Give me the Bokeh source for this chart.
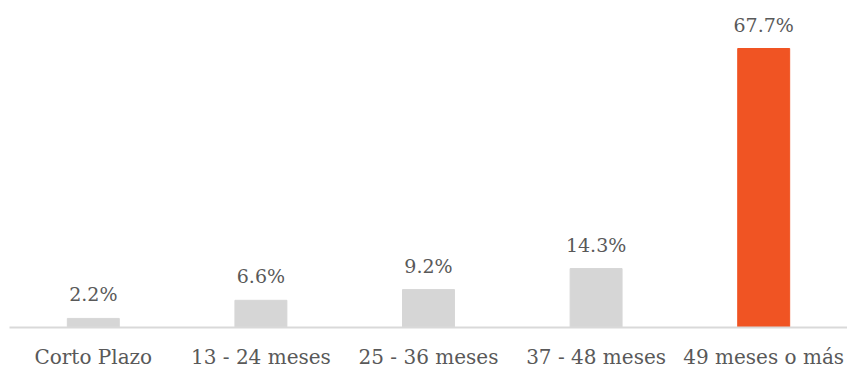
from bokeh.plotting import figure
from bokeh.models import Range1d, FixedTicker, ColumnDataSource
from bokeh.core.properties import value
from bokeh.embed import file_html
from bokeh.resources import INLINE

categories = ["Corto Plazo", "13 - 24 meses", "25 - 36 meses", "37 - 48 meses", "49 meses o más"]
values = [2.2, 6.6, 9.2, 14.3, 67.7]
labels = ["2.2%", "6.6%", "9.2%", "14.3%", "67.7%"]
colors = ["#d6d6d6", "#d6d6d6", "#d6d6d6", "#d6d6d6", "#f05423"]

FONT = "DejaVu Serif"
TXT = "#595959"

xs = list(range(len(categories)))
src = ColumnDataSource(dict(x=xs, top=values, label=labels, color=colors))

p = figure(width=847, height=371, output_backend="svg", toolbar_location=None,
           x_range=Range1d(-0.5, 4.5), y_range=Range1d(0, 79.35),
           min_border_left=9, min_border_right=0, min_border_top=0, min_border_bottom=0)
p.outline_line_color = None
p.xgrid.visible = False
p.ygrid.visible = False
p.yaxis.visible = False
p.background_fill_color = "white"
p.border_fill_color = "white"

p.vbar(x="x", top="top", bottom=0, width=0.31, color="color", source=src)
p.text(x="x", y="top", text="label", source=src, y_offset=-24,
       text_align="center", text_baseline="alphabetic",
       text_font=value(FONT), text_font_size="19px", text_color=TXT)

ax = p.xaxis[0]
ax.ticker = FixedTicker(ticks=xs)
ax.major_label_overrides = {i: c for i, c in enumerate(categories)}
ax.major_tick_line_color = None
ax.minor_tick_line_color = None
ax.axis_line_color = "#d9d9d9"
ax.axis_line_width = 2
ax.major_label_text_font = FONT
ax.major_label_text_font_size = "20px"
ax.major_label_text_color = TXT
ax.major_label_standoff = 11

open("out.html", "w").write(file_html(p, INLINE))
